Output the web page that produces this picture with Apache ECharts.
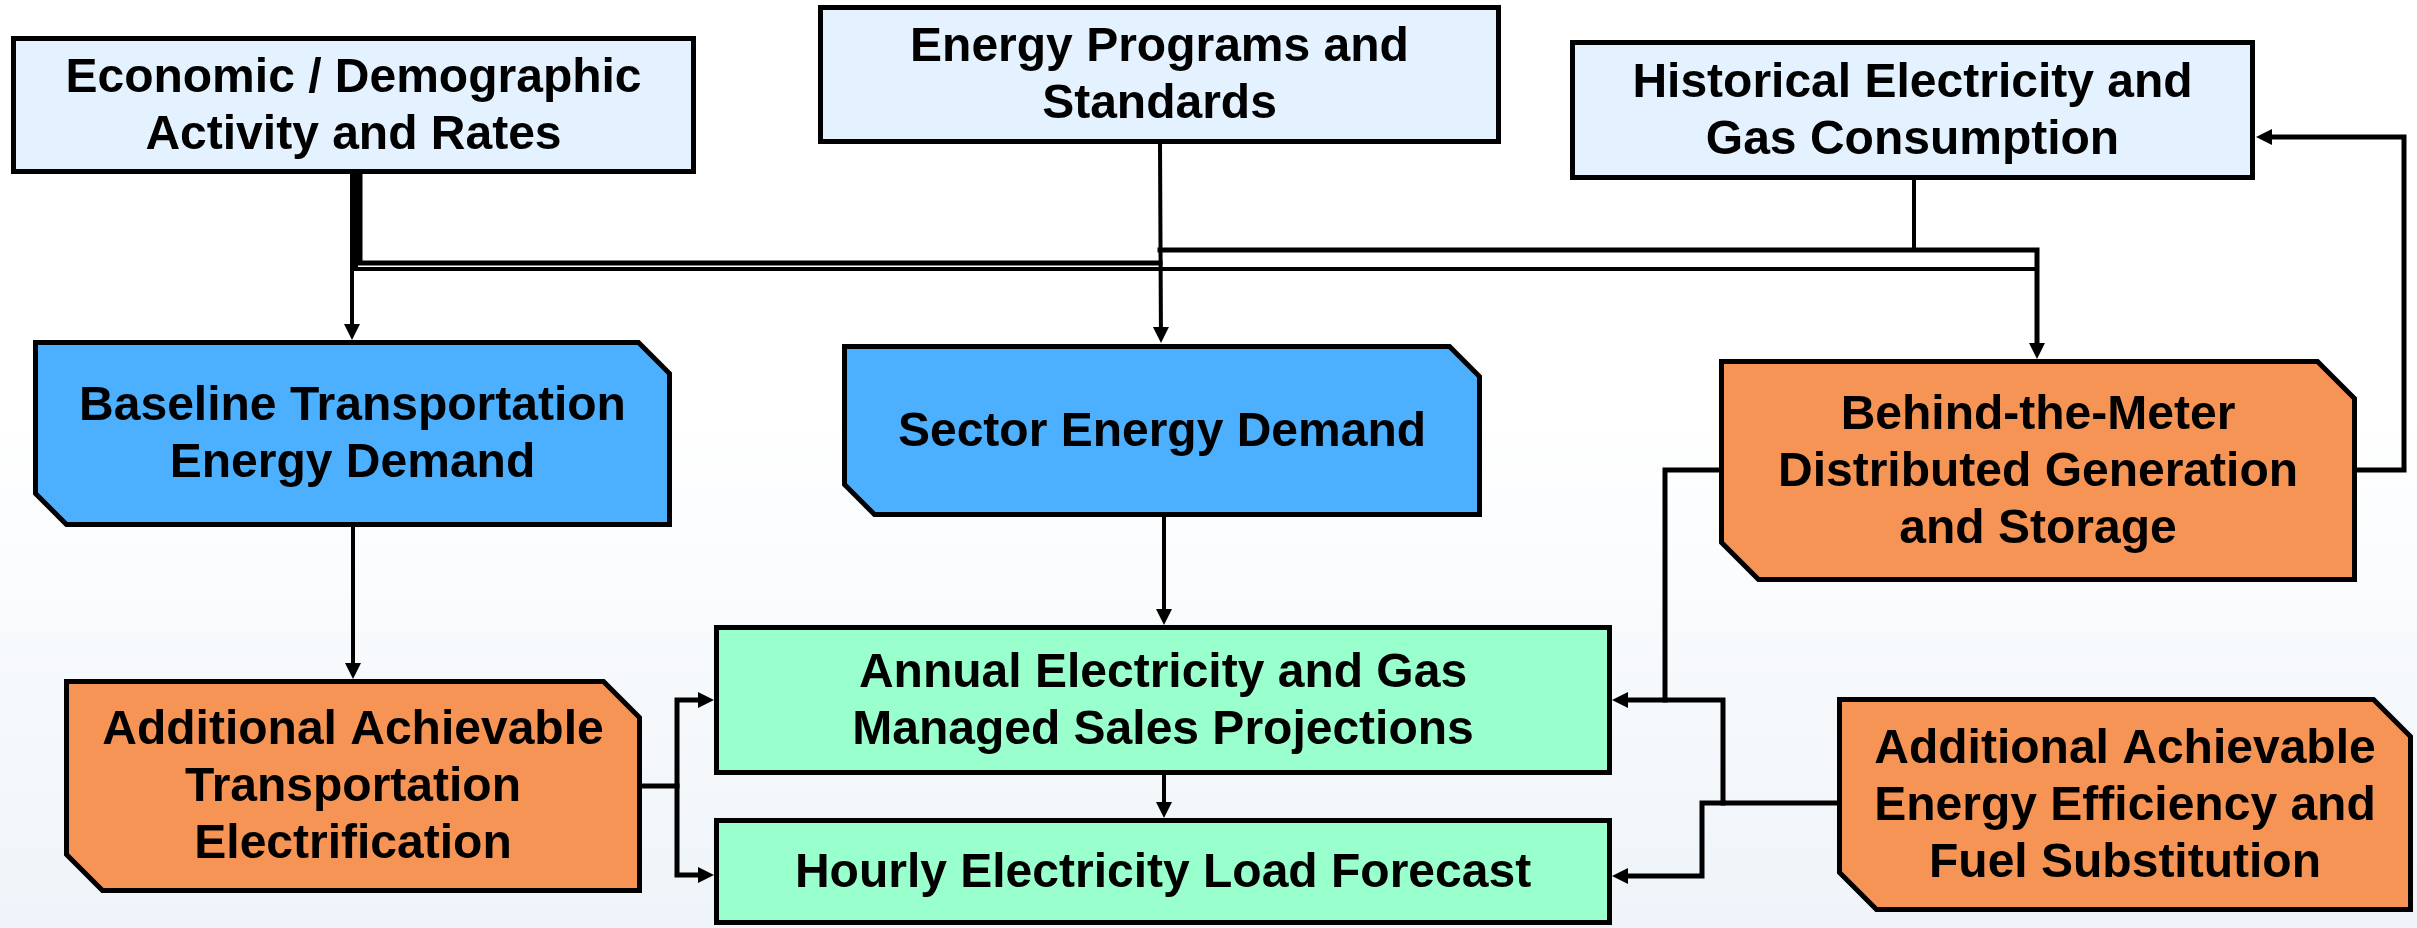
<!DOCTYPE html>
<html>
<head>
<meta charset="utf-8">
<script src="https://cdn.jsdelivr.net/npm/echarts@6/dist/echarts.min.js"></script>
<style>
  html, body { margin: 0; padding: 0; background: #fff; }
  #main { width: 2417px; height: 928px; }
</style>
</head>
<body>
<div id="main"></div>
<script>
// box texts
var boxLabels = [
  'Economic / Demographic\nActivity and Rates',
  'Energy Programs and\nStandards',
  'Historical Electricity and\nGas Consumption',
  'Baseline Transportation\nEnergy Demand',
  'Sector Energy Demand',
  'Behind-the-Meter\nDistributed Generation\nand Storage',
  'Additional Achievable\nTransportation\nElectrification',
  'Annual Electricity and Gas\nManaged Sales Projections',
  'Hourly Electricity Load Forecast',
  'Additional Achievable\nEnergy Efficiency and\nFuel Substitution'
];
// box extents (diagram units)
var boxLeft   = [11, 818, 1570, 33, 842, 1719, 64, 714, 714, 1837];
var boxRight  = [696, 1501, 2255, 672, 1482, 2357, 642, 1612, 1612, 2413];
var boxTop    = [36, 5, 40, 340, 344, 359, 679, 625, 818, 697];
var boxBottom = [174, 144, 180, 527, 517, 582, 893, 775, 925, 912];
var boxKind   = ['input', 'input', 'input', 'model', 'model', 'modifier', 'modifier', 'output', 'output', 'modifier'];
var boxCut    = [0, 0, 0, 31, 30, 37, 36, 0, 0, 37];

// connectors: polyline points, and whether it ends in an arrow
var linkPoints = [
  [[352, 174], [352, 340]],
  [[360, 176], [360, 263], [1160, 263]],
  [[356, 176], [356, 269], [2037, 269]],
  [[1160, 144], [1161, 343]],
  [[1914, 180], [1914, 250]],
  [[1160, 250], [2037, 250], [2037, 359]],
  [[353, 527], [353, 679]],
  [[1164, 517], [1164, 625]],
  [[1164, 775], [1164, 818]],
  [[642, 786], [677, 786], [677, 700], [714, 700]],
  [[677, 786], [677, 875], [714, 875]],
  [[2357, 470], [2404, 470], [2404, 137], [2256, 137]],
  [[1719, 470], [1665, 470], [1665, 700], [1612, 700]],
  [[1837, 803], [1723, 803], [1723, 700], [1665, 700]],
  [[1723, 803], [1702, 803], [1702, 876], [1612, 876]]
];
var linkArrow = [true, false, false, true, false, true, true, true, true, true, true, true, true, false, true];
var linkWidth = [4, 5, 4, 4, 4, 5, 4, 4, 4, 5, 5, 5, 5, 5, 5];

var kindColor = {
  input: '#e3f2fe',
  model: '#4db0ff',
  modifier: '#f69455',
  output: '#99ffcc'
};

var myChart = echarts.init(document.getElementById('main'));

function renderBox(params, api) {
  var i = api.value(4);
  var p0 = api.coord([api.value(0), api.value(1)]);
  var p1 = api.coord([api.value(2), api.value(3)]);
  var inset = 2.5;
  var l = p0[0] + inset, t = p0[1] + inset, r = p1[0] - inset, b = p1[1] - inset;
  var c = boxCut[i];
  var pts;
  if (c > 0) {
    pts = [[l, t], [r - c, t], [r, t + c], [r, b], [l + c, b], [l, b - c]];
  } else {
    pts = [[l, t], [r, t], [r, b], [l, b]];
  }
  return {
    type: 'group',
    children: [
      {
        type: 'polygon',
        shape: { points: pts },
        style: { fill: kindColor[boxKind[i]], stroke: '#000', lineWidth: 5, lineJoin: 'miter' }
      },
      {
        type: 'text',
        style: {
          text: boxLabels[i],
          x: (p0[0] + p1[0]) / 2,
          y: (p0[1] + p1[1]) / 2 + 2,
          align: 'center',
          verticalAlign: 'middle',
          fontFamily: '"Liberation Sans", Arial, sans-serif',
          fontWeight: 'bold',
          fontSize: 48,
          lineHeight: 57,
          fill: '#000'
        }
      }
    ]
  };
}

function renderLink(params, api) {
  var k = api.value(2);
  var pts = linkPoints[k].map(function (p) { return api.coord(p); });
  var children = [];
  var head = 16, half = 8;
  var line = pts.slice();
  if (linkArrow[k]) {
    var a = pts[pts.length - 2], e = pts[pts.length - 1];
    var dx = e[0] - a[0], dy = e[1] - a[1];
    var len = Math.sqrt(dx * dx + dy * dy);
    var ux = dx / len, uy = dy / len;
    var bx = e[0] - ux * head, by = e[1] - uy * head;
    line[line.length - 1] = [e[0] - ux * (head - 2), e[1] - uy * (head - 2)];
    children.push({
      type: 'polygon',
      shape: { points: [e, [bx - uy * half, by + ux * half], [bx + uy * half, by - ux * half]] },
      style: { fill: '#000' }
    });
  }
  children.unshift({
    type: 'polyline',
    shape: { points: line },
    style: { stroke: '#000', lineWidth: linkWidth[k], fill: null, lineJoin: 'miter', lineCap: 'square' }
  });
  return { type: 'group', children: children };
}

var option = {
  animation: false,
  graphic: [{
    type: 'rect',
    z: -10,
    shape: { x: 0, y: 0, width: 2417, height: 928 },
    style: {
      fill: new echarts.graphic.LinearGradient(0, 0, 0, 1, [
        { offset: 0, color: '#ffffff' },
        { offset: 0.45, color: '#ffffff' },
        { offset: 1, color: '#eef4f9' }
      ])
    },
    silent: true
  }],
  grid: { left: 0, right: 0, top: 0, bottom: 0 },
  xAxis: { type: 'value', min: 0, max: 2417, show: false },
  yAxis: { type: 'value', min: 0, max: 928, inverse: true, show: false },
  series: [
    {
      type: 'custom',
      name: 'links',
      renderItem: renderLink,
      data: linkPoints.map(function (p, k) { return [p[0][0], p[0][1], k]; }),
      encode: { x: 0, y: 1 },
      z: 2,
      silent: true
    },
    {
      type: 'custom',
      name: 'boxes',
      renderItem: renderBox,
      data: boxLeft.map(function (x, i) { return [x, boxTop[i], boxRight[i], boxBottom[i], i]; }),
      encode: { x: [0, 2], y: [1, 3] },
      z: 3,
      silent: true
    }
  ]
};

myChart.setOption(option, true);
</script>
</body>
</html>
